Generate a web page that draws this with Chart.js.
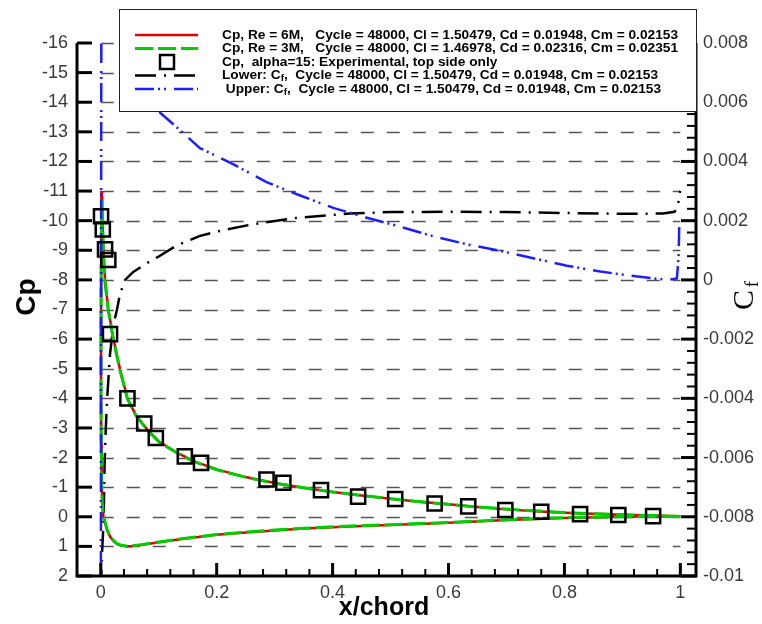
<!DOCTYPE html>
<html>
<head>
<meta charset="utf-8">
<script src="https://cdn.jsdelivr.net/npm/chart.js@4.4.1/dist/chart.umd.min.js"></script>
<style>
  html, body { margin: 0; padding: 0; background: #fff; }
</style>
</head>
<body>
<canvas id="myChart" width="762" height="624"></canvas>
<script>
// axis ticks
const xTicks = [0, 0.2, 0.4, 0.6, 0.8, 1];
const cpTicks = [-16, -15, -14, -13, -12, -11, -10, -9, -8, -7, -6, -5, -4, -3, -2, -1, 0, 1, 2];
const cfTicks = [-0.01, -0.008, -0.006, -0.004, -0.002, 0, 0.002, 0.004, 0.006, 0.008];

// Cp around the airfoil: upper surface TE -> LE, then lower surface LE -> TE
const cpX = [1.0, 0.95, 0.9, 0.85, 0.8, 0.75, 0.7, 0.65, 0.6, 0.55, 0.5, 0.45, 0.4, 0.35, 0.3, 0.25, 0.2, 0.16, 0.13, 0.1,
  0.08, 0.06, 0.046, 0.033, 0.022, 0.013, 0.0074, 0.0045, 0.003, 0.002, 0.0012, 0.0006, 0.0003, 0.0004, 0.0008, 0.0015,
  0.0025, 0.0045, 0.0075, 0.011, 0.016, 0.022, 0.028, 0.035, 0.045, 0.055, 0.07, 0.1, 0.14, 0.2, 0.25, 0.3, 0.35, 0.4,
  0.45, 0.5, 0.6, 0.7, 0.8, 0.9, 1.0];
const cp6M = [-0.02, -0.04, -0.07, -0.1, -0.14, -0.19, -0.25, -0.33, -0.42, -0.51, -0.61, -0.72, -0.84, -0.98, -1.14, -1.34, -1.6, -1.88, -2.18, -2.55,
  -2.95, -3.45, -4.0, -5.0, -6.0, -7.0, -8.0, -9.0, -10.0, -11.0, -10.2, -8.5, -6.0, -4.0, -2.5, -1.2,
  -0.5, 0.0, 0.2, 0.45, 0.67, 0.82, 0.92, 0.97, 1.0, 0.99, 0.95, 0.86, 0.75, 0.61, 0.53, 0.46, 0.4, 0.35,
  0.31, 0.28, 0.2, 0.11, 0.04, 0.0, -0.02];
const cp3M = [-0.01, -0.04, -0.07, -0.1, -0.14, -0.2, -0.26, -0.33, -0.42, -0.51, -0.61, -0.72, -0.84, -0.98, -1.13, -1.33, -1.59, -1.87, -2.17, -2.53,
  -2.93, -3.43, -3.98, -4.95, -5.95, -6.95, -7.9, -8.9, -9.9, -10.7, -10.0, -8.4, -6.0, -4.0, -2.5, -1.2,
  -0.5, 0.0, 0.2, 0.45, 0.66, 0.81, 0.91, 0.96, 0.99, 0.98, 0.94, 0.85, 0.74, 0.6, 0.52, 0.45, 0.39, 0.34,
  0.3, 0.27, 0.19, 0.1, 0.03, 0.0, -0.01];

// experiment, top side only
const expX = [0.0005, 0.0035, 0.0074, 0.013, 0.016, 0.046, 0.075, 0.095, 0.145, 0.173, 0.286, 0.315, 0.38, 0.444,
  0.508, 0.576, 0.634, 0.698, 0.76, 0.827, 0.893, 0.953];
const expCp = [-10.15, -9.7, -9.03, -8.67, -6.17, -4.0, -3.15, -2.66, -2.04, -1.82, -1.26, -1.15, -0.9, -0.68,
  -0.6, -0.45, -0.35, -0.23, -0.17, -0.09, -0.06, -0.02];

// skin friction
const cfLowerX = [0.0, 0.0015, 0.004, 0.0055, 0.0065, 0.0085, 0.011, 0.013, 0.016, 0.019, 0.022, 0.028, 0.033, 0.042,
  0.056, 0.085, 0.1, 0.13, 0.17, 0.2, 0.26, 0.34, 0.43, 0.5, 0.6, 0.7, 0.8, 0.9, 0.97, 0.99, 0.996, 0.998, 1.0];
const cfLower = [-0.0105, -0.0095, -0.0085, -0.0075, -0.0063, -0.0051, -0.004, -0.0034, -0.0025, -0.002, -0.0015, -0.001, -0.0005, 0.0,
  0.00027, 0.00063, 0.00079, 0.00115, 0.00148, 0.00163, 0.00187, 0.0021, 0.00224, 0.00229, 0.0023, 0.00229, 0.00226, 0.00223, 0.00224, 0.0023, 0.0025, 0.0029, 0.003];
const cfUpperX = [0.0002, 0.0004, 0.0006, 0.001, 0.04, 0.07, 0.099, 0.14, 0.171, 0.229, 0.286, 0.344, 0.401, 0.459,
  0.516, 0.574, 0.632, 0.689, 0.746, 0.804, 0.862, 0.919, 0.977, 0.994, 0.997, 0.998];
const cfUpper = [-0.0098, -0.004, 0.002, 0.0095, 0.0088, 0.0068, 0.0057, 0.005, 0.00445, 0.0039, 0.0033, 0.00285, 0.00243, 0.0021,
  0.0018, 0.00147, 0.0012, 0.00098, 0.00073, 0.00048, 0.00028, 0.00013, 0.0, 0.00005, 0.0008, 0.0018];

const labels = [
  'Cp, Re = 6M,   Cycle = 48000, Cl = 1.50479, Cd = 0.01948, Cm = 0.02153',
  'Cp, Re = 3M,   Cycle = 48000, Cl = 1.46978, Cd = 0.02316, Cm = 0.02351',
  'Cp,  alpha=15: Experimental, top side only',
  'Lower: C_f,  Cycle = 48000, Cl = 1.50479, Cd = 0.01948, Cm = 0.02153',
  ' Upper: C_f,  Cycle = 48000, Cl = 1.50479, Cd = 0.01948, Cm = 0.02153'
];

function pts(xs, ys) {
  return xs.map((x, i) => ({ x: x, y: ys[i] }));
}

const tickFont = { family: '"Liberation Sans", Arial, sans-serif', size: 18 };
const tickColor = '#3a3a3a';

// draws "C_f" style text with a subscript f
function subText(ctx, str, x, y, size) {
  const parts = str.split('_f');
  let cx = x;
  parts.forEach((p, i) => {
    ctx.font = 'bold ' + size + 'px "Liberation Sans"';
    ctx.fillText(p, cx, y);
    cx += ctx.measureText(p).width;
    if (i < parts.length - 1) {
      ctx.font = 'bold ' + (size * 0.72) + 'px "Liberation Sans"';
      ctx.fillText('f', cx, y + 3);
      cx += ctx.measureText('f').width;
    }
  });
}

const frame = {
  id: 'frame',
  beforeDatasetsDraw(chart) {
    const { ctx, scales } = chart;
    const x0 = scales.x.getPixelForValue(0), x1 = scales.x.getPixelForValue(1);
    ctx.save();
    ctx.strokeStyle = '#555';
    ctx.lineWidth = 1.5;
    ctx.setLineDash([13, 13]);
    cpTicks.forEach(v => {
      if (v === 2) return;
      const y = Math.round(scales.y.getPixelForValue(v)) + 0.5;
      ctx.beginPath();
      ctx.moveTo(x0, y);
      ctx.lineTo(x1, y);
      ctx.stroke();
    });
    ctx.restore();
  },
  afterDatasetsDraw(chart) {
    const { ctx, chartArea: a, scales } = chart;
    ctx.save();
    ctx.strokeStyle = '#000';
    ctx.lineCap = 'butt';
    // axis lines
    ctx.lineWidth = 3;
    ctx.beginPath();
    ctx.moveTo(a.left, a.top);
    ctx.lineTo(a.left, a.bottom);
    ctx.lineTo(a.right, a.bottom);
    ctx.lineTo(a.right, a.top);
    ctx.stroke();
    // left ticks
    cpTicks.forEach(v => {
      const y = scales.y.getPixelForValue(v);
      ctx.beginPath(); ctx.moveTo(a.left, y); ctx.lineTo(a.left + 15, y); ctx.stroke();
    });
    // bottom ticks
    for (let i = 0; i <= 25; i++) {
      const v = i * 0.04;
      const x = scales.x.getPixelForValue(v);
      const major = i % 5 === 0;
      ctx.lineWidth = major ? 3 : 2;
      ctx.beginPath(); ctx.moveTo(x, a.bottom); ctx.lineTo(x, a.bottom - (major ? 13 : 7)); ctx.stroke();
    }
    // right ticks
    for (let i = 0; i <= 45; i++) {
      const v = -0.01 + i * 0.0004;
      const y = scales.cf.getPixelForValue(v);
      const major = i % 5 === 0;
      ctx.lineWidth = major ? 3 : 2;
      ctx.beginPath(); ctx.moveTo(a.right, y); ctx.lineTo(a.right - (major ? 15 : 9), y); ctx.stroke();
    }
    ctx.restore();
  },
  afterDraw(chart) {
    const { ctx } = chart;
    const sets = chart.data.datasets;
    ctx.save();
    // legend box
    ctx.fillStyle = '#fff';
    ctx.fillRect(119, 9, 577, 102);
    ctx.strokeStyle = '#222';
    ctx.lineWidth = 1;
    ctx.strokeRect(119.5, 9.5, 577, 102);

    ctx.font = 'bold 12px "Liberation Sans"';
    const sx = 456 / ctx.measureText(labels[0]).width;
    const rows = [35, 48.5, 62, 75.5, 89];
    sets.forEach((ds, i) => {
      const y = rows[i];
      ctx.save();
      if (ds.showLine) {
        ctx.strokeStyle = ds.borderColor;
        ctx.lineWidth = ds.borderWidth;
        ctx.setLineDash(ds.borderDash || []);
        ctx.beginPath(); ctx.moveTo(135, y); ctx.lineTo(198, y); ctx.stroke();
      } else {
        ctx.strokeStyle = '#000';
        ctx.lineWidth = 2.5;
        ctx.strokeRect(160, y - 7, 14, 14);
      }
      ctx.restore();
      ctx.save();
      ctx.translate(222, y);
      ctx.scale(sx, 1.1);
      ctx.fillStyle = '#000';
      ctx.textBaseline = 'middle';
      ctx.textAlign = 'left';
      subText(ctx, ds.label, 0, 0, 12);
      ctx.restore();
    });

    // axis titles
    ctx.fillStyle = '#000';
    ctx.textAlign = 'center';
    ctx.textBaseline = 'middle';
    ctx.save();
    ctx.translate(27, 297);
    ctx.rotate(-Math.PI / 2);
    ctx.font = 'bold 28px "Liberation Sans"';
    ctx.fillText('Cp', 0, 0);
    ctx.restore();

    ctx.font = 'bold 25px "Liberation Sans"';
    ctx.fillText('x/chord', 384, 608);

    ctx.save();
    ctx.translate(745, 300);
    ctx.rotate(-Math.PI / 2);
    ctx.font = '30px "Liberation Serif"';
    ctx.fillText('C', 0, 0);
    ctx.font = '19px "Liberation Serif"';
    ctx.fillText('f', 16, 8);
    ctx.restore();
    ctx.restore();
  }
};

const ctx = document.getElementById('myChart');

new Chart(ctx, {
  type: 'scatter',
  data: {
    datasets: [{
      label: labels[0],
      data: pts(cpX, cp6M),
      showLine: true,
      borderColor: 'rgb(225,0,0)',
      borderWidth: 2.5,
      pointRadius: 0,
      yAxisID: 'y',
      order: 3
    }, {
      label: labels[1],
      data: pts(cpX, cp3M),
      showLine: true,
      borderColor: 'rgb(0,205,0)',
      borderWidth: 3,
      borderDash: [18, 5],
      pointRadius: 0,
      yAxisID: 'y',
      order: 2
    }, {
      label: labels[2],
      data: pts(expX, expCp),
      showLine: false,
      pointStyle: 'rect',
      pointRadius: 10,
      borderColor: '#000',
      borderWidth: 2.5,
      backgroundColor: 'rgba(0,0,0,0)',
      yAxisID: 'y',
      order: 0
    }, {
      label: labels[3],
      data: pts(cfLowerX, cfLower),
      showLine: true,
      borderColor: '#000',
      borderWidth: 2.5,
      borderDash: [21, 8, 2, 8],
      pointRadius: 0,
      yAxisID: 'cf',
      order: 4
    }, {
      label: labels[4],
      data: pts(cfUpperX, cfUpper),
      showLine: true,
      borderColor: 'rgb(30,30,255)',
      borderWidth: 2.5,
      borderDash: [19, 4, 2, 4, 2, 8],
      pointRadius: 0,
      yAxisID: 'cf',
      order: 1
    }]
  },
  options: {
    responsive: false,
    animation: false,
    layout: { padding: { top: 43, left: 0, right: 0, bottom: 0 } },
    plugins: { legend: { display: false }, tooltip: { enabled: false } },
    scales: {
      x: {
        type: 'linear',
        min: -0.041,
        max: 1.027,
        grid: { display: false, drawTicks: false },
        border: { display: false },
        ticks: {
          padding: 6,
          font: tickFont,
          color: tickColor,
          callback: function (value) { return `${+value.toFixed(1)}`; }
        },
        afterBuildTicks: s => { s.ticks = xTicks.map(v => ({ value: v })); },
        afterFit: s => { s.height = 48; }
      },
      y: {
        type: 'linear',
        position: 'left',
        reverse: true,
        min: -16,
        max: 2,
        grid: { display: false, drawTicks: false },
        border: { display: false },
        ticks: {
          padding: 9,
          autoSkip: false,
          font: tickFont,
          color: tickColor
        },
        afterBuildTicks: s => { s.ticks = cpTicks.map(v => ({ value: v })); },
        afterFit: s => { s.width = 77; }
      },
      cf: {
        type: 'linear',
        position: 'right',
        min: -0.01,
        max: 0.008,
        grid: { display: false, drawTicks: false },
        border: { display: false },
        ticks: {
          padding: 7,
          autoSkip: false,
          font: tickFont,
          color: tickColor,
          callback: function (value) { return `${+value.toFixed(4)}`; }
        },
        afterBuildTicks: s => { s.ticks = cfTicks.map(v => ({ value: v })); },
        afterFit: s => { s.width = 66; }
      }
    }
  },
  plugins: [frame]
});
</script>
</body>
</html>
